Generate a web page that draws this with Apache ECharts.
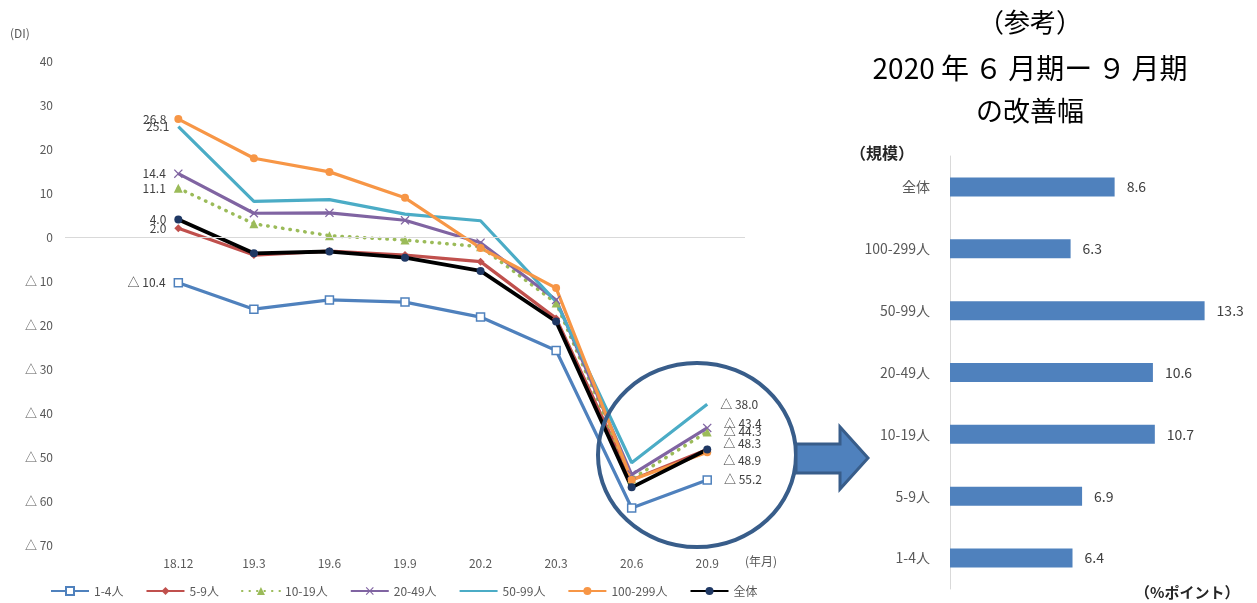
<!DOCTYPE html>
<html>
<head>
<meta charset="utf-8">
<script src="https://cdn.jsdelivr.net/npm/echarts@6/dist/echarts.min.js"></script>
<style>
  html, body { margin: 0; padding: 0; background: #fff; }
  #main { width: 1257px; height: 603px; }
</style>
</head>
<body>
<div id="main"></div>
<script>
// 年月（先頭は空の区分）
var months = ['', '18.12', '19.3', '19.6', '19.9', '20.2', '20.3', '20.6', '20.9'];

// 規模別DI
var s1_4    = [null, -10.4, -16.4, -14.3, -14.8, -18.2, -25.8, -61.6, -55.2];
var s5_9    = [null, 2.0, -4.1, -3.2, -4.1, -5.6, -18.5, -55.2, -48.3];
var s10_19  = [null, 11.1, 3.0, 0.3, -0.7, -2.2, -15.0, -55.0, -44.3];
var s20_49  = [null, 14.4, 5.4, 5.5, 3.8, -1.3, -14.3, -54.0, -43.4];
var s50_99  = [null, 25.1, 8.1, 8.5, 5.2, 3.7, -14.7, -51.3, -38.0];
var s100_299 = [null, 26.8, 17.9, 14.8, 8.9, -2.5, -11.6, -55.2, -48.9];
var sAll    = [null, 4.0, -3.7, -3.3, -4.7, -7.7, -19.2, -56.9, -48.3];

// 改善幅（右の棒グラフ）
var barCats = ['全体', '100-299人', '50-99人', '20-49人', '10-19人', '5-9人', '1-4人'];
var barVals = [8.6, 6.3, 13.3, 10.6, 10.7, 6.9, 6.4];

var font = "'Noto Sans CJK JP', 'Noto Sans', sans-serif";
var grey = '#595959';

function fmt(v) {
  if (v < 0) return '△ ' + Math.abs(v).toFixed(1);
  return v.toFixed(1);
}

// 最初と最後の点だけにラベル
function withLabels(arr, showLast, lastOffset) {
  return arr.map(function (v, i) {
    if (v == null) return v;
    if (i === 1) {
      return { value: v, label: { show: true, position: 'left', distance: 8 } };
    }
    if (i === arr.length - 1 && showLast) {
      return { value: v, label: { show: true, position: 'right', distance: 12, offset: [0, lastOffset || 0] } };
    }
    return v;
  });
}

var lbl = {
  show: false, color: '#404040', fontSize: 12, fontFamily: font,
  formatter: function (p) { return fmt(p.value); }
};

var xMark = 'path://M0,1L1,0L5,4L9,0L10,1L6,5L10,9L9,10L5,6L1,10L0,9L4,5Z';

var myChart = echarts.init(document.getElementById('main'));

var option = {
  animation: false,
  textStyle: { fontFamily: font },
  title: [
    { text: '（参考）', left: 1025, top: 4, textAlign: 'center',
      textStyle: { fontSize: 26, fontWeight: 'normal', color: '#000', fontFamily: font } },
    { text: '2020 年\u2009６\u2009月期ー\u2009９\u2009月期', left: 1025, top: 49, textAlign: 'center',
      textStyle: { fontSize: 28, fontWeight: 'normal', color: '#000', fontFamily: font } },
    { text: 'の改善幅', left: 1025, top: 92, textAlign: 'center',
      textStyle: { fontSize: 27, fontWeight: 'normal', color: '#000', fontFamily: font } }
  ],
  legend: {
    left: 45, top: 580,
    itemWidth: 38, itemHeight: 10, itemGap: 22,
    textStyle: { color: grey, fontSize: 12, fontFamily: font },
    data: ['1-4人', '5-9人', '10-19人', '20-49人', '50-99人', '100-299人', '全体']
  },
  grid: [
    { left: 65, right: 512, top: 61, bottom: 58 },
    { left: 950, right: 39, top: 156, bottom: 14 }
  ],
  xAxis: [
    {
      gridIndex: 0, type: 'category', data: months, boundaryGap: true,
      axisLine: { show: false }, axisTick: { show: false },
      axisLabel: { color: grey, fontSize: 12, margin: 12 }
    },
    {
      gridIndex: 1, type: 'value', min: 0, max: 14, show: false,
      splitLine: { show: false }
    }
  ],
  yAxis: [
    {
      gridIndex: 0, type: 'value', min: -70, max: 40, interval: 10,
      axisLine: { show: false }, axisTick: { show: false },
      splitLine: { show: false },
      axisLabel: { color: grey, fontSize: 12, margin: 12, formatter: function (v) {
        return v < 0 ? '△ ' + Math.abs(v) : String(v);
      } }
    },
    {
      gridIndex: 1, type: 'category', data: barCats, inverse: true,
      axisLine: { show: true, lineStyle: { color: '#d9d9d9', width: 1 } },
      axisTick: { show: false },
      axisLabel: { color: grey, fontSize: 14, margin: 20 }
    }
  ],
  series: [
    {
      name: '1-4人', type: 'line', data: withLabels(s1_4, true),
      lineStyle: { color: '#4f81bd', width: 3.2 },
      itemStyle: { color: '#fff', borderColor: '#4f81bd', borderWidth: 1.5 },
      symbol: 'rect', symbolSize: 8, showAllSymbol: true, label: lbl,
      markLine: {
        silent: true, symbol: 'none', label: { show: false },
        lineStyle: { color: '#d9d9d9', width: 1, type: 'solid' },
        data: [{ yAxis: 0 }]
      }
    },
    {
      name: '5-9人', type: 'line', data: withLabels(s5_9, false),
      lineStyle: { color: '#c0504d', width: 3.2 },
      itemStyle: { color: '#c0504d' },
      symbol: 'diamond', symbolSize: 8, label: lbl
    },
    {
      name: '10-19人', type: 'line', data: withLabels(s10_19, true),
      lineStyle: { color: '#9bbb59', width: 3.5, type: [0.5, 7], cap: 'round' },
      itemStyle: { color: '#9bbb59' },
      symbol: 'triangle', symbolSize: 9, label: lbl
    },
    {
      name: '20-49人', type: 'line', data: withLabels(s20_49, true, -5),
      lineStyle: { color: '#8064a2', width: 3.2 },
      itemStyle: { color: '#8064a2' },
      symbol: xMark, symbolSize: 9, label: lbl
    },
    {
      name: '50-99人', type: 'line', data: withLabels(s50_99, true),
      lineStyle: { color: '#4bacc6', width: 3.2 },
      itemStyle: { color: 'rgba(75,172,198,0)', borderWidth: 0 },
      symbol: 'circle', symbolSize: 2, label: lbl
    },
    {
      name: '100-299人', type: 'line', data: withLabels(s100_299, true, 8),
      lineStyle: { color: '#f79646', width: 3.2 },
      itemStyle: { color: '#f79646' },
      symbol: 'circle', symbolSize: 8, label: lbl
    },
    {
      name: '全体', type: 'line', data: withLabels(sAll, true, -6),
      lineStyle: { color: '#000', width: 3.8 },
      itemStyle: { color: '#1f3864' },
      symbol: 'circle', symbolSize: 8, label: lbl
    },
    {
      name: '改善幅', type: 'bar', xAxisIndex: 1, yAxisIndex: 1,
      data: barVals, barWidth: 19,
      itemStyle: { color: '#4f81bd' },
      label: { show: true, position: 'right', distance: 12, color: '#404040', fontSize: 14,
        formatter: function (p) { return p.value.toFixed(1); } }
    }
  ],
  graphic: [
    { type: 'text', left: 10, top: 27, style: { text: '(DI)', fill: grey, fontSize: 12, fontFamily: font } },
    { type: 'text', left: 745, top: 555, style: { text: '(年月)', fill: grey, fontSize: 12, fontFamily: font } },
    { type: 'text', left: 850, top: 145, style: { text: '（規模）', fill: '#262626', fontSize: 16, fontWeight: 'bold', fontFamily: font } },
    { type: 'text', left: 1135, top: 585, style: { text: '（%ポイント）', fill: '#262626', fontSize: 15, fontWeight: 'bold', fontFamily: font } },
    { type: 'ellipse', shape: { cx: 697, cy: 455, rx: 99, ry: 92 }, z: 100,
      style: { fill: 'none', stroke: '#385d8a', lineWidth: 4 } },
    { type: 'polygon', z: 100,
      shape: { points: [[796, 444], [840, 444], [840, 427], [868, 458], [840, 489], [840, 473], [796, 473]] },
      style: { fill: '#4f81bd', stroke: '#385d8a', lineWidth: 3 } }
  ]
};

myChart.setOption(option);
</script>
</body>
</html>
